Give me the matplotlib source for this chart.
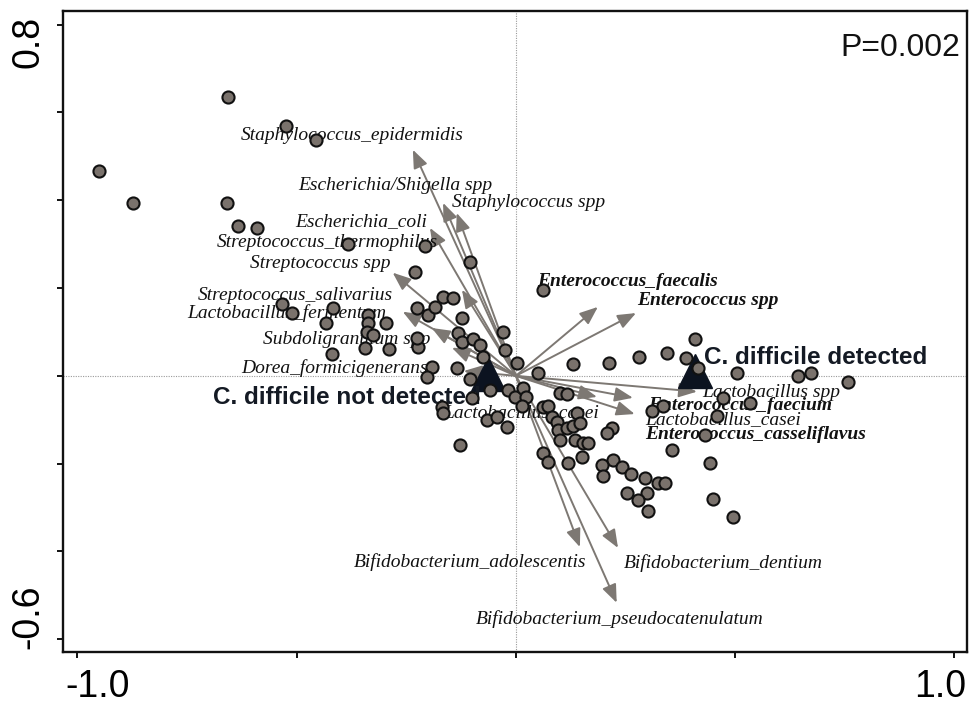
import matplotlib
matplotlib.use("Agg")
import matplotlib.pyplot as plt
import matplotlib.transforms as mtransforms

# Sample scores (CCA site scores)
site_x = [-0.951, -0.873, -0.657, -0.525, -0.456, -0.659, -0.634, -0.591, -0.383, -0.208,
          -0.230, -0.105, -0.166, -0.144, -0.534, -0.511, -0.417, -0.433, -0.338, -0.338,
          -0.340, -0.326, -0.296, -0.344, -0.290, -0.223, -0.226, -0.420, -0.226, -0.201,
          -0.185, -0.123, -0.132, -0.123, -0.098, -0.082, -0.075, -0.030, -0.025, 0.002,
          -0.135, -0.192, -0.203, -0.105, -0.059, -0.018, -0.002, -0.100, -0.169, -0.166,
          -0.128, -0.066, -0.043, -0.021, 0.016, 0.023, 0.014, 0.050, 0.062, 0.073,
          0.100, 0.116, 0.130, 0.212, 0.281, 0.082, 0.094, 0.096, 0.116, 0.130,
          0.139, 0.146, 0.135, 0.153, 0.164, 0.100, 0.062, 0.151, 0.073, 0.119,
          0.062, 0.408, 0.344, 0.388, 0.415, 0.504, 0.643, 0.673, 0.757, 0.472,
          0.534, 0.335, 0.310, 0.458, 0.431, 0.356, 0.442, 0.219, 0.208, 0.221,
          0.196, 0.242, 0.262, 0.294, 0.324, 0.340, 0.253, 0.299, 0.278, 0.301,
          0.449, 0.495, 0.198]
site_y = [0.467, 0.394, 0.636, 0.569, 0.538, 0.394, 0.342, 0.337, 0.301, 0.296,
          0.237, 0.260, 0.180, 0.178, 0.164, 0.144, 0.155, 0.121, 0.139, 0.121,
          0.100, 0.093, 0.121, 0.064, 0.062, 0.066, 0.087, 0.050, 0.155, 0.139,
          0.157, 0.132, 0.098, 0.077, 0.084, 0.071, 0.043, 0.100, 0.059, 0.030,
          0.018, 0.021, -0.002, -0.007, -0.032, -0.032, -0.048, -0.050, -0.071, -0.084,
          -0.157, -0.100, -0.093, -0.116, -0.027, -0.048, -0.068, 0.007, -0.071, -0.068,
          -0.039, -0.041, 0.027, 0.030, 0.043, -0.093, -0.105, -0.123, -0.118, -0.114,
          -0.084, -0.107, -0.146, -0.153, -0.153, -0.146, -0.175, -0.185, -0.196, -0.198,
          0.196, 0.084, 0.052, 0.041, 0.018, 0.007, 0.000, 0.007, -0.014, -0.050,
          -0.062, -0.068, -0.080, -0.091, -0.134, -0.169, -0.198, -0.118, -0.130, -0.191,
          -0.203, -0.207, -0.223, -0.232, -0.244, -0.244, -0.267, -0.267, -0.282, -0.308,
          -0.280, -0.321, -0.228]

# Species (biplot arrows)
species = ["Staphylococcus_epidermidis", "Escherichia/Shigella spp", "Staphylococcus spp",
           "Escherichia_coli", "Streptococcus_thermophilus", "Streptococcus spp",
           "Streptococcus_salivarius", "Lactobacillus_fermentum", "Subdoligranulum spp",
           "Dorea_formicigenerans", "Enterococcus_faecalis", "Enterococcus spp",
           "Lactobacillus spp", "Enterococcus_faecium", "Lactobacillus_casei",
           "Enterococcus_casseliflavus", "Bifidobacterium_adolescentis",
           "Bifidobacterium_dentium", "Bifidobacterium_pseudocatenulatum"]
arrow_x = [-0.235, -0.166, -0.135, -0.196, -0.123, -0.281, -0.258, -0.192, -0.146, -0.119,
           0.187, 0.274, 0.413, 0.267, 0.271, 0.185, 0.146, 0.233, 0.230]
arrow_y = [0.515, 0.394, 0.371, 0.337, 0.196, 0.235, 0.146, 0.109, 0.064, 0.011,
           0.157, 0.143, -0.036, -0.050, -0.087, -0.048, -0.390, -0.392, -0.517]
species_bold = [False, False, False, False, False, False, False, False, False, False,
                True, True, False, True, False, True, False, False, False]
# label anchors (centre of each species name)
label_x = [-0.374, -0.274, 0.030, -0.353, -0.431, -0.447, -0.502, -0.522, -0.385, -0.413,
           0.255, 0.438, 0.582, 0.511, 0.472, 0.547, -0.105, 0.474, 0.237]
label_y = [0.547, 0.433, 0.394, 0.351, 0.303, 0.257, 0.182, 0.144, 0.082, 0.018,
           0.214, 0.171, -0.039, -0.068, -0.100, -0.134, -0.424, -0.426, -0.554]

# extra species name without visible arrow
extra_label = "Lactobacillus_casei"
extra_label_xy = (0.011, -0.084)

# Group centroids
group_names = ["C. difficile not detected", "C. difficile detected"]
group_x = [-0.064, 0.408]
group_y = [0.005, 0.011]
group_label_x = [-0.385, 0.684]
group_label_y = [-0.050, 0.041]

p_text = "P=0.002"

x_ticks = [-1.0, -0.5, 0.0, 0.5, 1.0]
x_ticklabels = ["-1.0", "", "", "", "1.0"]
y_ticks = [0.8, 0.6, 0.4, 0.2, 0.0, -0.2, -0.4, -0.6]
y_ticklabels = ["0.8", "", "", "", "", "", "", "-0.6"]

arrow_color = "#7d7873"
point_face = "#7a726c"
serif = ["Liberation Serif", "DejaVu Serif"]
sans = ["Liberation Sans", "DejaVu Sans"]

fig = plt.figure(figsize=(9.69, 7.02), dpi=100)
ax = fig.add_axes([63 / 969, 50 / 702, 904 / 969, 641 / 702])
ax.set_xlim(-1.033, 1.029)
ax.set_ylim(-0.629, 0.831)

# reference lines through the origin
ax.axhline(0, color="#9a9a9a", lw=0.8, ls=(0, (1, 1.2)), zorder=1)
ax.axvline(0, color="#9a9a9a", lw=0.8, ls=(0, (1, 1.2)), zorder=1)

# species arrows
for sx, sy in zip(arrow_x, arrow_y):
    ax.annotate("", xy=(sx, sy), xytext=(0, 0),
                arrowprops=dict(arrowstyle="-|>,head_length=0.55,head_width=0.22",
                                color=arrow_color, lw=1.4, mutation_scale=20,
                                shrinkA=0, shrinkB=0), zorder=2)

# species names
for name, lx, ly, bold in zip(species, label_x, label_y, species_bold):
    ax.text(lx, ly, name, family=serif, style="italic",
            weight="bold" if bold else "normal", fontsize=14,
            ha="center", va="center", color="#111111", zorder=3)
ax.text(extra_label_xy[0], extra_label_xy[1], extra_label, family=serif, style="italic",
        fontsize=14, ha="center", va="center", color="#111111", zorder=3)

# group centroids
ax.plot(group_x, group_y, ls="none", marker="^", ms=24, color="#0c1320", zorder=4)
for name, gx, gy in zip(group_names, group_label_x, group_label_y):
    ax.text(gx, gy, name, family=sans, weight="bold", fontsize=17.5,
            ha="center", va="center", color="#141a24", zorder=4)

# samples
ax.scatter(site_x, site_y, s=76, c=point_face, edgecolors="#111111",
           linewidths=1.5, zorder=5)

ax.text(0.993, 0.965, p_text, transform=ax.transAxes, family=sans, fontsize=23,
        ha="right", va="top", color="#111111")

for side in ["left", "bottom", "right", "top"]:
    ax.spines[side].set_linewidth(1.7)
    ax.spines[side].set_color("#111111")

ax.set_xticks(x_ticks)
ax.set_xticklabels(x_ticklabels, family=sans, fontsize=27)
ax.set_yticks(y_ticks)
ax.set_yticklabels(y_ticklabels, family=sans, fontsize=27, rotation=90, va="center")
ax.tick_params(direction="out", length=4, width=1.4, color="#111111", pad=8)

# pull the end labels inward toward the plot area
dpi_scale = fig.dpi_scale_trans
xl = ax.get_xticklabels()
xl[0].set_transform(xl[0].get_transform() + mtransforms.ScaledTranslation(20 / 100, 0, dpi_scale))
xl[-1].set_transform(xl[-1].get_transform() + mtransforms.ScaledTranslation(-14 / 100, 0, dpi_scale))
yl = ax.get_yticklabels()
yl[0].set_transform(yl[0].get_transform() + mtransforms.ScaledTranslation(0, -17 / 100, dpi_scale))
yl[-1].set_transform(yl[-1].get_transform() + mtransforms.ScaledTranslation(0, 23 / 100, dpi_scale))

fig.savefig("out.png", dpi=100)
